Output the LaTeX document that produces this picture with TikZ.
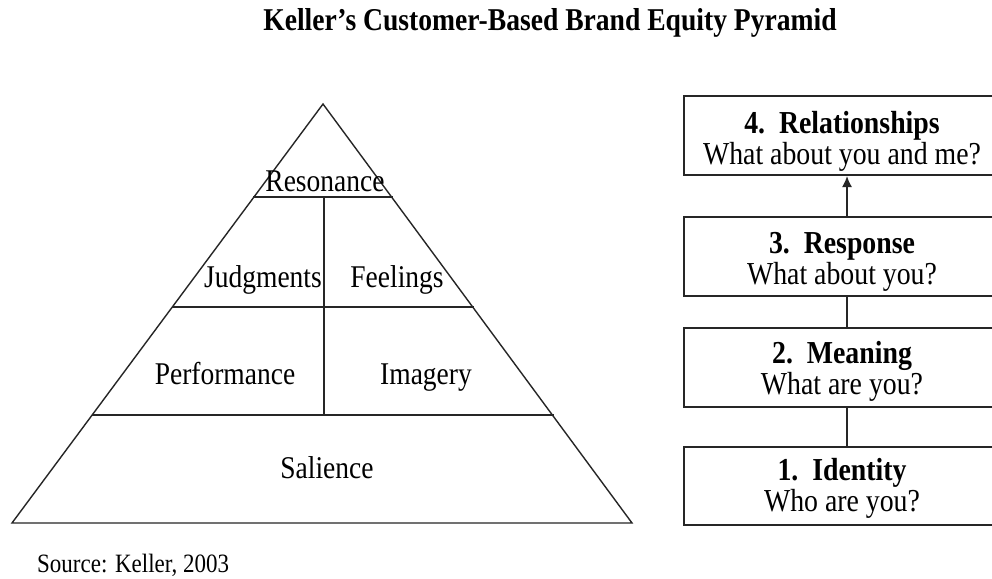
\documentclass[tikz,border=0pt]{standalone}
\usepackage{fontspec}
\usepackage{graphicx}
\setmainfont{Liberation Serif}
\usetikzlibrary{arrows.meta}
\newcommand{\vst}[1]{\scalebox{1}[1.15]{#1}}
\begin{document}
\begin{tikzpicture}[x=1pt,y=-1pt,
  lbl/.style={inner sep=0pt,anchor=base,font=\fontsize{27.5}{32}\selectfont},
  tline/.style={line width=1.4pt,draw=black!85},
  hline/.style={line width=2pt,draw=black!85},
  box/.style={draw=black!85,line width=2pt,minimum width=316pt,inner sep=0pt},
  btxt/.style={inner sep=0pt,anchor=base,font=\fontsize{27.8}{32}\selectfont},
  conn/.style={line width=1.6pt,draw=black!85}]
\useasboundingbox (0,0) rectangle (992,578);
\fill[white] (0,0) rectangle (992,578);
% title
\node[inner sep=0pt,anchor=base,font=\fontsize{27.6}{30}\selectfont\bfseries] (title) at (550,31) {\vst{Keller’s Customer-Based Brand Equity Pyramid}};
% pyramid
\coordinate (apex) at (323,104);
\coordinate (bl) at (12,523);
\coordinate (br) at (632,523);
\draw[tline] (bl) -- (apex) -- (br) -- cycle;
\draw[hline] (253,197) -- (393,197);
\draw[hline] (172,307) -- (474,307);
\draw[hline] (92,415) -- (554,415);
\draw[tline] (324,197) -- (324,415);
\node[lbl] (res) at (325,191) {\vst{Resonance}};
\node[lbl] (jud) at (263,287) {\vst{Judgments}};
\node[lbl] (fee) at (397,287) {\vst{Feelings}};
\node[lbl] (per) at (225,384) {\vst{Performance}};
\node[lbl] (ima) at (426,384) {\vst{Imagery}};
\node[lbl] (sal) at (327,478) {\vst{Salience}};
% boxes
\node[box,minimum height=79pt] (b4) at (842,135.5) {};
\node[box,minimum height=79pt] (b3) at (842,256.5) {};
\node[box,minimum height=79pt] (b2) at (842,367) {};
\node[box,minimum height=78pt] (b1) at (842,486) {};
\node[btxt] (t4a) at (842,133) {\vst{\textbf{4.\ \ Relationships}}};
\node[btxt] (t4b) at (842,164) {\vst{What about you and me?}};
\node[btxt] (t3a) at (842,253) {\vst{\textbf{3.\ \ Response}}};
\node[btxt] (t3b) at (842,284) {\vst{What about you?}};
\node[btxt] (t2a) at (842,363) {\vst{\textbf{2.\ \ Meaning}}};
\node[btxt] (t2b) at (842,394) {\vst{What are you?}};
\node[btxt] (t1a) at (842,480) {\vst{\textbf{1.\ \ Identity}}};
\node[btxt] (t1b) at (842,511) {\vst{Who are you?}};
\draw[conn,-{Latex[length=11pt,width=10pt]}] ([xshift=5pt]b3.north) -- ([xshift=5pt]b4.south);
\draw[conn] ([xshift=5pt]b2.north) -- ([xshift=5pt]b3.south);
\draw[conn] ([xshift=5pt]b1.north) -- ([xshift=5pt]b2.south);
% source
\node[inner sep=0pt,anchor=base west,font=\fontsize{23}{26}\selectfont] (src) at (37,572) {\vst{Source: Keller, 2003}};
\end{tikzpicture}
\end{document}
